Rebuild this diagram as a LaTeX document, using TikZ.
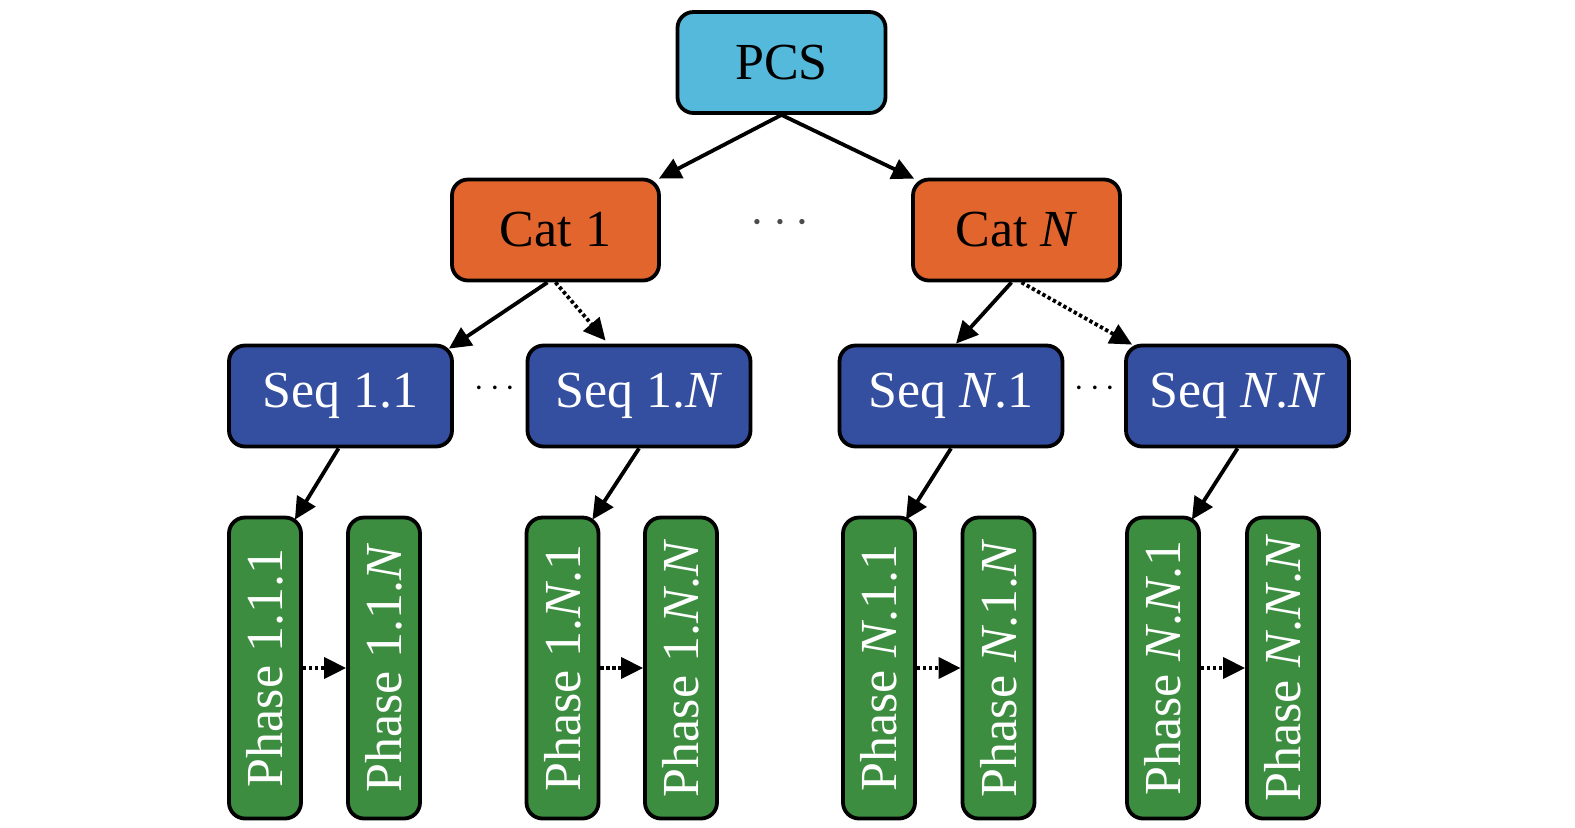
\documentclass[tikz,border=0pt]{standalone}
\usepackage{fontspec}
\setmainfont{Liberation Serif}
\usetikzlibrary{arrows.meta,calc}
\definecolor{pcsc}{HTML}{55B9DC}
\definecolor{catc}{HTML}{E2652E}
\definecolor{seqc}{HTML}{344EA0}
\definecolor{phc}{HTML}{3C8D3F}
\begin{document}
\begin{tikzpicture}[x=0.5pt,y=-0.5pt,
  box/.style={draw=black, line width=1.9pt, rounded corners=8pt, inner sep=0pt,
    font=\fontsize{26}{30}\selectfont},
  pcsbox/.style={box, fill=pcsc, text=black, minimum width=104pt, minimum height=50.5pt},
  catbox/.style={box, fill=catc, text=black, minimum width=103.5pt, minimum height=50.5pt},
  seqbox/.style={box, fill=seqc, text=white, minimum width=111.5pt, minimum height=50.5pt},
  phbox/.style={box, fill=phc, text=white, rotate=90, minimum width=150.5pt, minimum height=36pt},
  arr/.style={line width=1.9pt, -{Triangle[length=11pt,width=10.5pt]}},
  darr/.style={arr, dash pattern=on 1.7pt off 1.3pt},
  dots/.style={inner sep=0pt, font=\fontsize{18}{20}\selectfont}
]
\useasboundingbox (0,0) rectangle (1575,827);

\node[pcsbox] (pcs) at (781.5,62.5) {PCS};
\node[catbox] (cat1) at (555.5,230) {Cat 1};
\node[catbox] (catN) at (1016.5,230) {Cat \textit{N}};
\node[dots, text=black!70, font=\fontsize{25}{27}\selectfont] (cdots) at (780,223) {$\cdots$};

\node[seqbox] (s11) at (340.5,396) {Seq 1.1};
\node[seqbox] (s1N) at (639,396) {Seq 1.\textit{N}};
\node[seqbox] (sN1) at (951,396) {Seq \textit{N}.1};
\node[seqbox] (sNN) at (1237.5,396) {Seq \textit{N}.\textit{N}};
\node[dots] (d1) at (495,389) {$\cdots$};
\node[dots] (d2) at (1095,389) {$\cdots$};

\node[phbox] (p111) at (265,668) {Phase 1.1.1};
\node[phbox] (p11N) at (384,668) {Phase 1.1.\textit{N}};
\node[phbox] (p1N1) at (562.5,668) {Phase 1.\textit{N}.1};
\node[phbox] (p1NN) at (681,668) {Phase 1.\textit{N}.\textit{N}};
\node[phbox] (pN11) at (879,668) {Phase \textit{N}.1.1};
\node[phbox] (pN1N) at (998.5,668) {Phase \textit{N}.1.\textit{N}};
\node[phbox] (pNN1) at (1163,668) {Phase \textit{N}.\textit{N}.1};
\node[phbox] (pNNN) at (1283,668) {Phase \textit{N}.\textit{N}.\textit{N}};

% PCS to categories
\draw[arr] (pcs.south) -- ($(cat1.north east)+(-2,1)$);
\draw[arr] (pcs.south) -- ($(catN.north west)+(3,1)$);

% categories to sequences
\draw[arr] ($(cat1.south)+(-8,0)$) -- ($(s11.north east)+(-5,5)$);
\draw[darr] ($(cat1.south)+(0,0)$) -- ($(s1N.north west)+(80,-3)$);
\draw[arr] ($(catN.south)+(-5,0)$) -- ($(sN1.north)+(5,0)$);
\draw[darr] ($(catN.south)+(5,0)$) -- ($(sNN.north west)+(8,1)$);

% sequences to phases (page top-right of rotated node = local south east)
\draw[arr] ($(s11.south)+(-2,0)$) -- ($(p111.south east)+(-8,4)$);
\draw[arr] (s1N.south) -- ($(p1N1.south east)+(-8,4)$);
\draw[arr] (sN1.south) -- ($(pN11.south east)+(-11,4)$);
\draw[arr] (sNN.south) -- ($(pNN1.south east)+(-9,4)$);

% phase to phase (page right = local south, page left = local north)
\draw[darr] (p111.south) -- (p11N.north);
\draw[darr] (p1N1.south) -- (p1NN.north);
\draw[darr] (pN11.south) -- (pN1N.north);
\draw[darr] (pNN1.south) -- (pNNN.north);
\end{tikzpicture}
\end{document}
